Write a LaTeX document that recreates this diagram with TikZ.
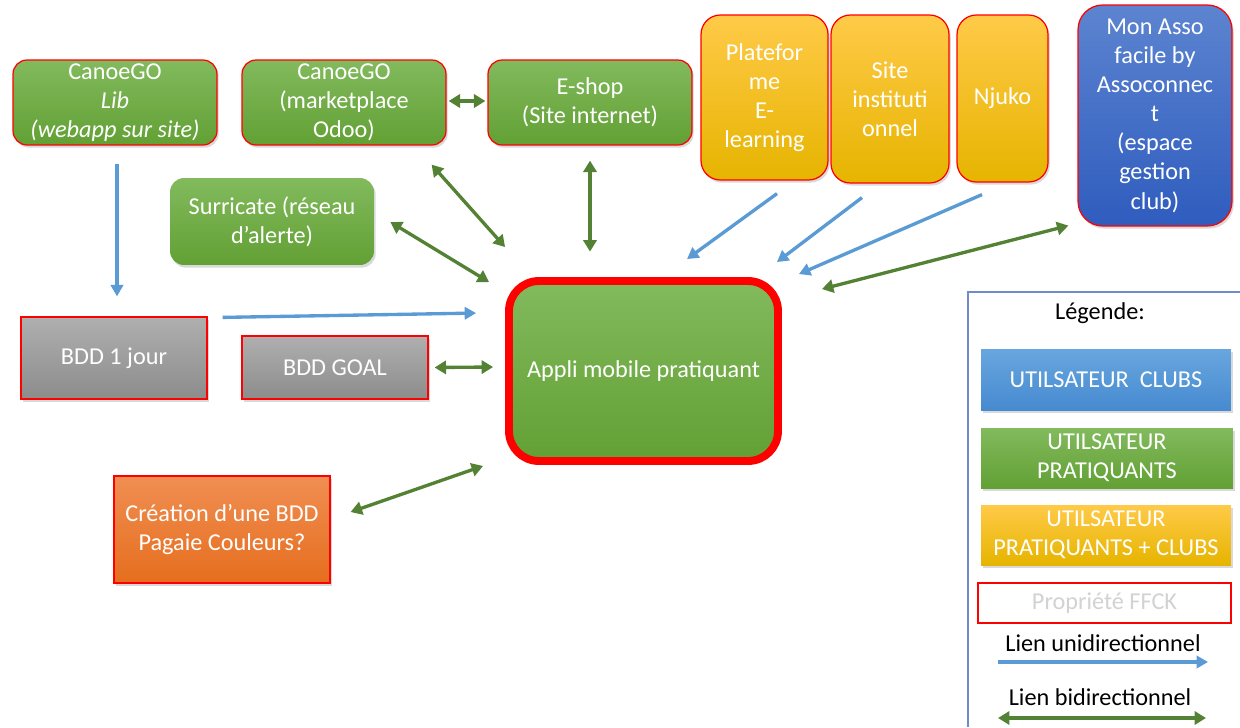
\documentclass[tikz,border=0pt]{standalone}
\usepackage{fontspec}
\setmainfont{Carlito}
\usepackage{xcolor}
\usepackage{tikz}
\usetikzlibrary{positioning}
\usetikzlibrary{calc}
\usetikzlibrary{shadows}
\usetikzlibrary{arrows.meta}

\definecolor{vertHaut}{RGB}{130,186,93}
\definecolor{vertBas}{RGB}{98,160,52}
\definecolor{jauneHaut}{RGB}{255,202,72}
\definecolor{jauneMil}{RGB}{255,192,0}
\definecolor{jauneBas}{RGB}{230,180,0}
\definecolor{bleuHaut}{RGB}{92,132,208}
\definecolor{bleuBas}{RGB}{47,92,190}
\definecolor{cielHaut}{RGB}{104,166,222}
\definecolor{cielBas}{RGB}{70,138,208}
\definecolor{grisHaut}{RGB}{175,175,175}
\definecolor{grisBas}{RGB}{140,140,140}
\definecolor{orHaut}{RGB}{240,142,82}
\definecolor{orBas}{RGB}{230,110,30}
\definecolor{flecheBleu}{RGB}{91,155,213}
\definecolor{flecheVert}{RGB}{84,130,53}
\definecolor{cadre}{RGB}{110,140,200}

\begin{document}
\begin{tikzpicture}
  [
    x=0.02cm, y=-0.02cm,
    font=\fontsize{13.8}{16.6}\selectfont,
    box/.style={
       text=white,
       align=center,
       inner sep=0pt,
       drop shadow={opacity=0.3, shadow xshift=1pt, shadow yshift=-1.5pt}
    },
    rouge/.style={draw=red, line width=0.7pt},
    vert/.style={top color=vertHaut, bottom color=vertBas},
    jaune/.style={top color=jauneHaut, middle color=jauneMil, bottom color=jauneBas},
    bleu/.style={top color=bleuHaut, bottom color=bleuBas},
    ciel/.style={top color=cielHaut, bottom color=cielBas},
    gris/.style={top color=grisHaut, bottom color=grisBas},
    orange/.style={top color=orHaut, bottom color=orBas},
    uni/.style={
       draw=flecheBleu,
       line width=1.9pt,
       -{Triangle[length=6.5pt, width=7pt]}
    },
    bi/.style={
       draw=flecheVert,
       line width=1.9pt,
       {Triangle[length=6.5pt, width=7.5pt]}-{Triangle[length=6.5pt, width=7.5pt]}
    }
  ]
  \useasboundingbox (0,0) rectangle (1240,727);

  % ligne du haut
  \node (lib)   at ( 115,102.5) [box, vert, rouge, rounded corners=8pt, minimum width=4.08cm, minimum height=1.7cm]
        {CanoeGO\\\textit{Lib}\\\textit{(webapp sur site)}};
  \node (odoo)  at ( 344,102.5) [box, vert, rouge, rounded corners=8pt, minimum width=4.08cm, minimum height=1.7cm]
        {CanoeGO\\(marketplace\\Odoo)};
  \node (eshop) at ( 590,102.5) [box, vert, rouge, rounded corners=8pt, minimum width=4.08cm, minimum height=1.7cm]
        {E-shop\\(Site internet)};
  \node (plat)  at (764.5, 97.5) [box, jaune, rouge, rounded corners=11pt, minimum width=2.54cm, minimum height=3.3cm]
        {Platefor\\me\\E-\\learning};
  \node (site)  at ( 890, 99.0) [box, jaune, rouge, rounded corners=11pt, minimum width=2.36cm, minimum height=3.36cm]
        {Site\\instituti\\onnel};
  \node (njuko) at (1002.5,98.5) [box, jaune, rouge, rounded corners=11pt, minimum width=1.82cm, minimum height=3.34cm]
        {Njuko};
  \node (asso)  at (1155,115.5) [box, bleu, rouge, rounded corners=14pt, minimum width=3.08cm, minimum height=4.42cm]
        {Mon Asso\\facile by\\Assoconnec\\t\\(espace\\gestion\\club)};

  % milieu
  \node (surri) at ( 272,221.5) [box, vert, rounded corners=8pt, minimum width=4.08cm, minimum height=1.74cm]
        {Surricate (réseau\\d’alerte)};
  \node (appli) at (643.5,371) [box, vert, draw=red, line width=4.5pt, rounded corners=17pt,
        minimum width=5.38cm, minimum height=3.6cm] {Appli mobile pratiquant};
  \node (bdd1)  at ( 114,358) [box, gris, rouge, minimum width=3.72cm, minimum height=1.64cm] {BDD 1 jour};
  \node (goal)  at ( 335,367.5) [box, gris, rouge, minimum width=3.72cm, minimum height=1.26cm] {BDD GOAL};
  \node (crea)  at ( 222,529.5) [box, orange, rouge, minimum width=4.32cm, minimum height=2.14cm]
        {Création d’une BDD\\Pagaie Couleurs?};

  % liens
  \draw [uni] ($(lib.south)+(2,18)$) -- ($(bdd1.north)+(3,-20)$);
  \draw [uni] ($(bdd1.north east)+(15,1)$) -- ($(appli.north west)+(-29,36)$);
  \draw [bi]  ($(odoo.east)+(2,-1.5)$) -- ($(eshop.west)+(-2,-1.5)$);
  \draw [bi]  ($(odoo.south east)+(-15,19)$) -- ($(appli.north west)+(0,-30)$);
  \draw [bi]  ($(surri.east)+(16,0.5)$) -- ($(appli.north west)+(-16,5)$);
  \draw [bi]  ($(eshop.south)+(0,15)$) -- ($(eshop.south)+(0,106)$);
  \draw [bi]  ($(goal.east)+(6,0)$) -- ($(appli.west)+(-12,-4)$);
  \draw [bi]  ($(crea.east)+(20,-17.5)$) -- ($(appli.south west)+(-22,1)$);
  \draw [uni] ($(plat.south)+(12.5,13)$) -- ($(appli.north)+(43.5,-18)$);
  \draw [uni] ($(site.south)+(-28,14)$) -- ($(appli.north east)+(-5,-15)$);
  \draw [uni] ($(njuko.south)+(-20.5,12)$) -- ($(appli.north east)+(17,-3)$);
  \draw [bi]  ($(asso.south west)+(-9,-1)$) -- ($(appli.north east)+(40,12)$);

  % legende
  \draw [cadre, line width=0.6pt] (968,727) -- (968,292) -- (1240,292);
  \node (titre) at (1100,313) {Légende:};
  \node (lclub) at (1106,379.5) [box, ciel, minimum width=5.0cm, minimum height=1.22cm] {UTILSATEUR\ \ CLUBS};
  \node (lprat) at (1107,458) [box, vert, minimum width=5.04cm, minimum height=1.2cm] {UTILSATEUR\\PRATIQUANTS};
  \node (lboth) at (1106,535) [box, jaune, minimum width=5.0cm, minimum height=1.2cm] {UTILSATEUR\\PRATIQUANTS + CLUBS};
  \node (lffck) at (1104.5,603) [rouge, fill=white, text=gray!35, minimum width=5.06cm, minimum height=0.8cm]
        {Propriété FFCK};
  \node (luni) at (1103,643) {Lien unidirectionnel};
  \node (lbi)  at (1100,697) {Lien bidirectionnel};
  \coordinate (uniA) at ( 998,662);
  \coordinate (uniB) at (1208,662);
  \coordinate (biA)  at ( 998,718);
  \coordinate (biB)  at (1206,718);
  \draw [uni] (uniA) -- (uniB);
  \draw [bi]  (biA) -- (biB);
\end{tikzpicture}
\end{document}
